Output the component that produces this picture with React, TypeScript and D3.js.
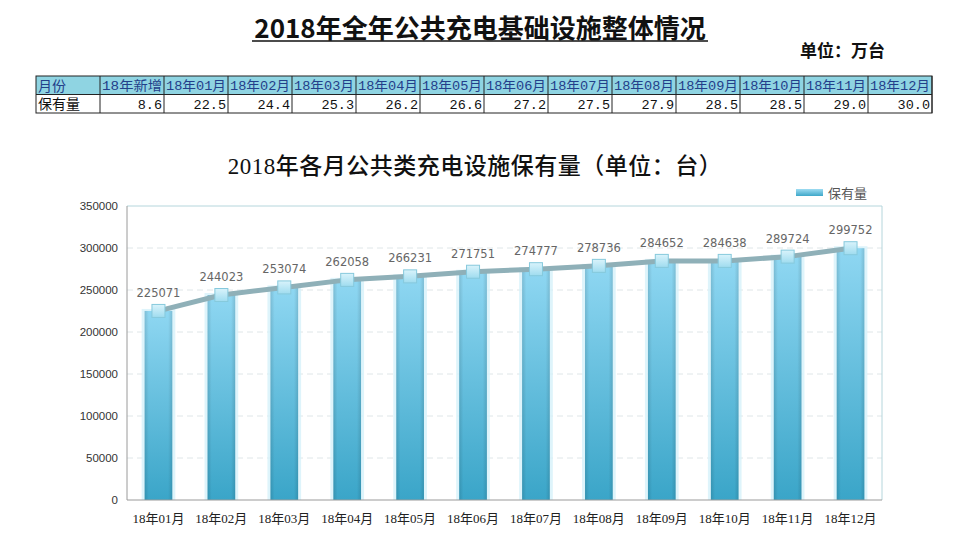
import React from 'react';
import * as d3 from 'd3';

// table data (万台)
const tableHeads = ["18年新增", "18年01月", "18年02月", "18年03月", "18年04月", "18年05月", "18年06月",
  "18年07月", "18年08月", "18年09月", "18年10月", "18年11月", "18年12月"];
const tableValues = ["8.6", "22.5", "24.4", "25.3", "26.2", "26.6", "27.2", "27.5", "27.9", "28.5", "28.5", "29.0", "30.0"];

// chart data (台)
const months = ["18年01月", "18年02月", "18年03月", "18年04月", "18年05月", "18年06月",
  "18年07月", "18年08月", "18年09月", "18年10月", "18年11月", "18年12月"];
const stock = [225071, 244023, 253074, 262058, 266231, 271751, 274777, 278736, 284652, 284638, 289724, 299752];
const yTicks = [0, 50000, 100000, 150000, 200000, 250000, 300000, 350000];

const W = 960, H = 544;
const plot = { left: 127, right: 882, top: 206, bottom: 500 };
const serif = '"Liberation Serif", "DejaVu Serif", "Noto Sans CJK SC", serif';
const sans = '"Noto Sans CJK SC", "Liberation Sans", sans-serif';
const tableFont = '"Liberation Mono", "Noto Sans CJK SC", monospace';

export default function App() {
  const x = d3.scaleBand().domain(months).range([plot.left, plot.right]).paddingInner(0.56).paddingOuter(0.28);
  const y = d3.scaleLinear().domain([0, 350000]).range([plot.bottom, plot.top]);
  const cx = (m: string) => (x(m) as number) + x.bandwidth() / 2;
  const line = d3.line<number>().x((_, i) => cx(months[i])).y(d => y(d));

  // table columns
  const tx = d3.scaleBand().domain(d3.range(tableHeads.length).map(String)).range([100, 932]);
  const rowTop = 76, rowH = 18.5;

  return (
    <svg width={W} height={H} style={{ position: 'absolute', left: 0, top: 0, background: '#fff' }}>
      <defs>
        <linearGradient id="barGrad" x1="0" y1="0" x2="0" y2="1">
          <stop offset="0%" stopColor="#8fd7f2" />
          <stop offset="100%" stopColor="#3aa5c8" />
        </linearGradient>
        <linearGradient id="barEdge" x1="0" y1="0" x2="1" y2="0">
          <stop offset="0%" stopColor="#000" stopOpacity="0.12" />
          <stop offset="15%" stopColor="#000" stopOpacity="0" />
          <stop offset="85%" stopColor="#000" stopOpacity="0" />
          <stop offset="100%" stopColor="#000" stopOpacity="0.12" />
        </linearGradient>
        <linearGradient id="markGrad" x1="0" y1="0" x2="0" y2="1">
          <stop offset="0%" stopColor="#d9f3fb" />
          <stop offset="100%" stopColor="#9fdcef" />
        </linearGradient>
        <linearGradient id="legGrad" x1="0" y1="0" x2="0" y2="1">
          <stop offset="0%" stopColor="#9edcf2" />
          <stop offset="100%" stopColor="#3ea7c9" />
        </linearGradient>
      </defs>

      {/* main title */}
      <text x={480} y={38} textAnchor="middle" fontFamily={sans} fontWeight="bold" fontSize={26} fill="#111">
        2018年全年公共充电基础设施整体情况
      </text>
      <line x1={252} x2={708} y1={41} y2={41} stroke="#111" strokeWidth={1.5} />
      <text x={885} y={57} textAnchor="end" fontFamily={sans} fontWeight="bold" fontSize={17} fill="#111">单位：万台</text>

      {/* table */}
      <rect x={36} y={rowTop} width={896} height={rowH} fill="#8fd4e2" />
      <rect x={36} y={rowTop} width={896} height={rowH * 2} fill="none" stroke="#222" strokeWidth={1} />
      <line x1={36} x2={932} y1={rowTop + rowH} y2={rowTop + rowH} stroke="#222" />
      <line x1={100} x2={100} y1={rowTop} y2={rowTop + rowH * 2} stroke="#222" />
      <text x={38} y={rowTop + 14.5} fontFamily={sans} fontSize={14} fill="#23408a">月份</text>
      <text x={38} y={rowTop + rowH + 14.5} fontFamily={sans} fontSize={14} fill="#111">保有量</text>
      {tableHeads.map((h, i) => {
        const x0 = tx(String(i)) as number;
        return (
          <g key={h}>
            <line x1={x0 + tx.bandwidth()} x2={x0 + tx.bandwidth()} y1={rowTop} y2={rowTop + rowH * 2} stroke="#222" />
            <text x={x0 + 2} y={rowTop + 14} fontFamily={tableFont} fontSize={13} fill="#23408a" textLength={60} lengthAdjust="spacingAndGlyphs">{h}</text>
            <text x={x0 + tx.bandwidth() - 2} y={rowTop + rowH + 14} textAnchor="end" fontFamily={tableFont} fontSize={13.5} fill="#111">{tableValues[i]}</text>
          </g>
        );
      })}

      {/* chart title */}
      <text x={475} y={174} textAnchor="middle" fontFamily={serif} fontWeight={500} fontSize={23} fill="#111" letterSpacing={0.5}>
        2018年各月公共类充电设施保有量（单位：台）
      </text>

      {/* legend */}
      <rect x={796} y={189} width={27} height={7} fill="url(#legGrad)" />
      <text x={828} y={198} fontFamily={sans} fontSize={13} fill="#555">保有量</text>

      {/* grid */}
      {yTicks.filter(t => t > 0 && t < 350000).map(t => (
        <line key={t} x1={plot.left} x2={plot.right} y1={y(t)} y2={y(t)} stroke="#dfe6e8" strokeDasharray="6,4" />
      ))}
      {/* frame */}
      <line x1={plot.left} x2={plot.right} y1={plot.top} y2={plot.top} stroke="#b5d6dc" />
      <line x1={plot.right} x2={plot.right} y1={plot.top} y2={plot.bottom} stroke="#b5d6dc" />

      {/* bars */}
      {stock.map((v, i) => {
        const bx = x(months[i]) as number;
        return (
          <g key={months[i]}>
            <rect x={bx - 3} y={y(v) - 2} width={x.bandwidth() + 6} height={plot.bottom - y(v) + 2} fill="#d6f1fa" opacity={0.8} />
            <rect x={bx} y={y(v)} width={x.bandwidth()} height={plot.bottom - y(v)} fill="url(#barGrad)" />
            <rect x={bx} y={y(v)} width={x.bandwidth()} height={plot.bottom - y(v)} fill="url(#barEdge)" />
          </g>
        );
      })}

      {/* axes */}
      <line x1={plot.left} x2={plot.left} y1={plot.top} y2={plot.bottom} stroke="#9a9a9a" />
      <line x1={plot.left} x2={plot.right} y1={plot.bottom} y2={plot.bottom} stroke="#9a9a9a" />
      {yTicks.map(t => (
        <text key={t} x={118} y={y(t) + 4} textAnchor="end" fontFamily='"Liberation Sans", Arial, sans-serif' fontSize={11.5} fill="#333">{t}</text>
      ))}
      {months.map(m => (
        <text key={m} x={cx(m)} y={523} textAnchor="middle" fontFamily={serif} fontSize={13} fill="#222">{m}</text>
      ))}

      {/* line + markers */}
      <path d={line(stock) as string} fill="none" stroke="#8fb0b8" strokeWidth={5} strokeLinejoin="round" />
      {stock.map((v, i) => (
        <g key={'m' + i}>
          <rect x={cx(months[i]) - 6.5} y={y(v) - 6.5} width={13} height={13} fill="url(#markGrad)" stroke="#86c9dc" strokeWidth={1} />
          <text x={cx(months[i])} y={y(v) - 14} textAnchor="middle" fontFamily='"DejaVu Sans", "Liberation Sans", sans-serif' fontSize={11.5} fill="#666">{v}</text>
        </g>
      ))}
    </svg>
  );
}
